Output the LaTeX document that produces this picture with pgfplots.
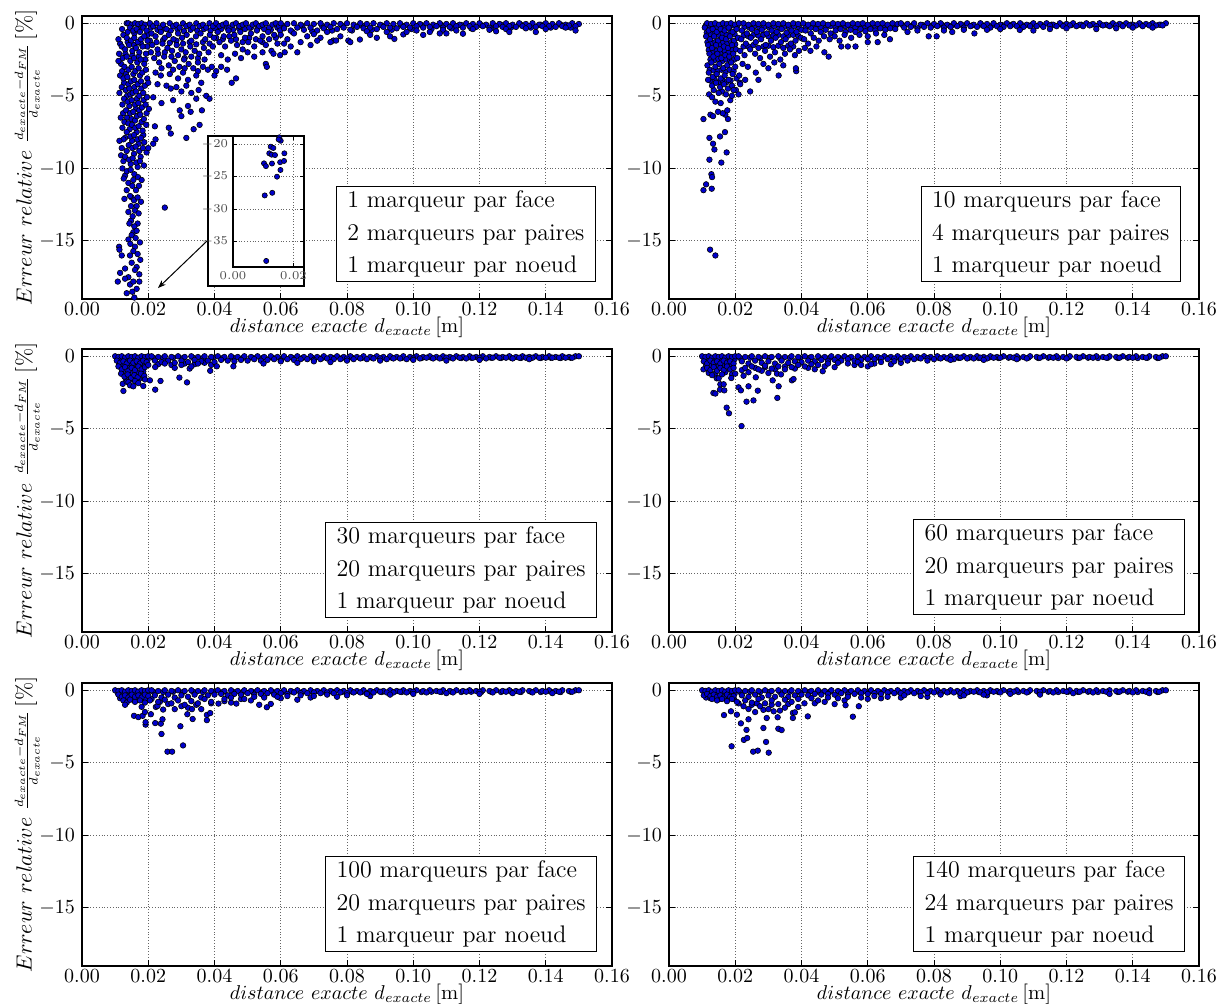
\documentclass[border=0pt]{standalone}
\usepackage{pgfplots}
\pgfplotsset{compat=1.18}
\usetikzlibrary{arrows.meta}
\pgfplotsset{
 panel/.style={scale only axis, width=265pt, height=141.5pt, anchor=north west,
  xmin=0, xmax=0.16, ymin=-19, ymax=0.5,
  xtick={0,0.02,0.04,0.06,0.08,0.1,0.12,0.14,0.16}, ytick={-15,-10,-5,0},
  scaled x ticks=false,
  xticklabel style={yshift=1.5pt, /pgf/number format/fixed, /pgf/number format/fixed zerofill, /pgf/number format/precision=2},
  grid=major, major grid style={black!60, densely dotted, line width=0.5pt},
  axis line style={line width=0.8pt}, tick align=inside, tick pos=both,
  major tick length=3pt, tick style={black, line width=0.5pt},
  ticklabel style={font=\fontsize{10}{12}\selectfont},
  xlabel={$distance\ exacte\ d_{exacte}\,$[m]},
  xlabel style={font=\fontsize{10.3}{12}\selectfont, yshift=6.5pt},
  only marks, mark=*, mark size=1.4pt, mark options={fill=blue, draw=black, line width=0.3pt}},
 ylab/.style={ylabel={$Erreur\ relative$ {\fontsize{9}{10}\selectfont$\frac{d_{exacte}-d_{FM}}{d_{exacte}}$}$\,[\%]$}, ylabel style={font=\fontsize{11}{13}\selectfont, yshift=-7pt}},
}
\tikzset{leg/.style={draw=black, line width=0.6pt, fill=white, align=left, anchor=south east,
  font=\fontsize{12}{16.3}\selectfont, inner xsep=5.5pt, inner ysep=2pt}}
\begin{document}
\begin{tikzpicture}
\path[use as bounding box] (0,0) rectangle (608.5pt,-501.5pt);
% ---------------- panel 1
\begin{axis}[panel, ylab, at={(41pt,-8pt)}]
\addplot coordinates {
(0.0121,-0.4)(0.0138,-0.6)(0.0158,-0.7)(0.0178,-0.2)(0.0198,-0.8)(0.0115,-1.4)(0.0138,-1.3)(0.0157,-1.5)(0.0178,-1.4)(0.0197,-1.6)(0.0118,-2.8)(0.0131,-2.1)(0.0152,-2.2)(0.0171,-2.3)(0.0191,-2.5)(0.0121,-3.3)(0.0133,-3.5)(0.0155,-3.5)(0.0175,-3.6)(0.0197,-3.8)
(0.0127,-4.1)(0.0140,-4.2)(0.0158,-4.4)(0.0179,-4.5)(0.0113,-4.8)(0.0136,-5.0)(0.0146,-4.9)(0.0166,-5.2)(0.0186,-5.3)(0.0122,-5.6)(0.0143,-5.7)(0.0163,-5.9)(0.0173,-6.0)(0.0195,-6.2)(0.0124,-6.2)(0.0136,-6.5)(0.0150,-6.6)(0.0160,-6.7)(0.0180,-6.8)
(0.0122,-7.2)(0.0144,-7.3)(0.0165,-7.5)(0.0185,-7.7)(0.0130,-7.9)(0.0151,-8.1)(0.0171,-8.3)(0.0120,-8.6)(0.0135,-8.8)(0.0157,-9.0)(0.0177,-9.2)(0.0125,-9.5)(0.0147,-9.7)(0.0168,-9.9)(0.0130,-10.5)(0.0155,-10.8)(0.0172,-11.2)(0.0135,-11.5)(0.0150,-12.0)(0.0165,-12.6)
(0.0140,-13.0)(0.0148,-13.6)(0.0168,-13.8)(0.0155,-14.4)(0.0140,-14.9)(0.0160,-15.4)(0.0145,-16.0)(0.0165,-16.8)(0.0130,-16.9)(0.0145,-18.0)(0.0165,-18.3)
(0.0208,-0.3)(0.0228,-0.45)(0.0248,-0.35)(0.0268,-0.5)(0.0288,-0.4)(0.0308,-0.55)(0.0328,-0.45)(0.0348,-0.5)(0.0368,-0.4)(0.0388,-0.5)(0.0205,-1.2)(0.0225,-1.3)(0.0245,-1.15)(0.0265,-1.35)(0.0285,-1.2)(0.0305,-1.4)(0.0325,-1.3)(0.0345,-1.45)(0.0365,-1.3)(0.0385,-1.4)
(0.0208,-2.0)(0.0230,-2.1)(0.0250,-2.0)(0.0270,-2.3)(0.0290,-2.2)(0.0310,-2.4)(0.0330,-2.3)(0.0350,-2.4)(0.0370,-2.5)(0.0240,-3.1)(0.0275,-3.2)(0.0310,-3.1)(0.0350,-3.3)
(0.0402,-0.35)(0.0420,-0.4)(0.0438,-0.3)(0.0456,-0.45)(0.0474,-0.35)(0.0492,-0.4)(0.0510,-0.3)(0.0530,-0.35)(0.0550,-0.4)(0.0570,-0.45)(0.0590,-0.3)(0.0405,-1.0)(0.0425,-1.1)(0.0445,-0.9)(0.0465,-1.1)(0.0485,-1.3)(0.0505,-1.0)(0.0525,-1.1)(0.0545,-1.3)(0.0565,-1.1)(0.0585,-1.0)
(0.0605,-0.2)(0.0635,-0.6)(0.0665,-0.2)(0.0695,-0.55)(0.0725,-0.2)(0.0755,-0.5)(0.0785,-0.15)(0.0815,-0.5)(0.0845,-0.15)(0.0875,-0.45)(0.0905,-0.15)(0.0935,-0.45)(0.0965,-0.15)(0.0995,-0.4)(0.1025,-0.12)(0.1055,-0.4)(0.1085,-0.12)(0.1115,-0.35)(0.1145,-0.12)(0.1175,-0.35)(0.1205,-0.12)(0.1235,-0.35)(0.1265,-0.1)(0.1295,-0.3)(0.1325,-0.1)(0.1355,-0.3)(0.1385,-0.1)(0.1415,-0.3)(0.1445,-0.1)(0.1475,-0.3)
(0.0135,0)(0.0140,0)(0.0150,-0.1)(0.0160,0)(0.0170,-0.05)(0.0180,0)(0.0190,-0.1)(0.0145,-0.3)(0.0155,-0.5)(0.0165,-0.4)(0.0175,-0.6)(0.0185,-0.3)(0.0195,-0.5)
(0.0110,-1.1)(0.0125,-0.8)(0.0135,-1.0)(0.0148,-1.2)(0.0158,-1.0)(0.0168,-1.3)(0.0178,-1.1)(0.0188,-0.9)(0.0198,-1.2)(0.0120,-1.6)(0.0130,-1.8)(0.0142,-1.5)(0.0152,-1.9)(0.0163,-1.7)(0.0173,-2.0)(0.0183,-1.6)(0.0193,-2.1)
(0.0112,-2.1)(0.0123,-2.4)(0.0135,-2.3)(0.0146,-2.6)(0.0157,-2.4)(0.0167,-2.7)(0.0177,-2.5)(0.0188,-2.8)(0.0110,-2.6)(0.0128,-3.0)(0.0140,-3.2)(0.0150,-3.0)(0.0161,-3.3)(0.0171,-3.1)(0.0182,-3.4)(0.0193,-3.2)
(0.0115,-3.6)(0.0125,-3.8)(0.0137,-3.7)(0.0148,-4.0)(0.0158,-3.9)(0.0168,-4.2)(0.0178,-4.0)(0.0190,-4.3)(0.0200,-4.1)(0.0120,-4.4)(0.0132,-4.6)(0.0143,-4.5)(0.0153,-4.8)(0.0163,-4.7)(0.0173,-5.0)(0.0185,-4.8)(0.0196,-5.1)
(0.0127,-5.2)(0.0138,-5.4)(0.0150,-5.3)(0.0160,-5.6)(0.0170,-5.5)(0.0181,-5.8)(0.0192,-5.6)(0.0202,-5.9)(0.0133,-6.0)(0.0145,-6.2)(0.0155,-6.1)(0.0166,-6.4)(0.0176,-6.3)(0.0187,-6.6)(0.0117,-6.5)(0.0128,-6.8)
(0.0140,-6.9)(0.0151,-7.0)(0.0161,-7.2)(0.0171,-7.1)(0.0183,-7.4)(0.0194,-7.0)(0.0135,-7.5)(0.0146,-7.8)(0.0157,-7.7)(0.0167,-8.0)(0.0178,-7.9)(0.0188,-8.2)(0.0125,-8.0)(0.0113,-8.1)(0.0141,-8.4)(0.0152,-8.6)(0.0162,-8.5)(0.0173,-8.8)(0.0184,-8.6)(0.0195,-8.9)
(0.0118,-9.1)(0.0130,-9.2)(0.0142,-9.4)(0.0153,-9.3)(0.0164,-9.6)(0.0175,-9.5)(0.0187,-9.8)(0.0122,-10.0)(0.0135,-10.2)(0.0147,-10.1)(0.0158,-10.4)(0.0169,-10.6)(0.0180,-10.8)(0.0126,-10.7)(0.0140,-11.0)(0.0152,-11.2)(0.0163,-11.5)
(0.0128,-12.1)(0.0145,-11.9)(0.0157,-12.2)(0.0168,-12.0)(0.0178,-12.3)(0.0148,-12.6)(0.0160,-12.9)(0.0171,-13.1)(0.0153,-13.3)(0.0143,-13.8)(0.0158,-14.0)(0.0165,-14.3)(0.0150,-14.6)(0.0162,-14.8)(0.0146,-15.2)(0.0175,-15.1)
(0.0112,-15.4)(0.0113,-15.6)(0.0155,-15.7)(0.0120,-16.0)(0.0168,-15.9)(0.0150,-16.5)(0.0176,-16.3)(0.0115,-17.2)(0.0160,-17.0)(0.0140,-17.5)(0.0173,-17.3)(0.0108,-17.8)(0.0130,-17.6)(0.0155,-17.8)(0.0173,-17.8)(0.0135,-18.6)(0.0152,-18.5)(0.0158,-18.9)
(0.0205,0)(0.0215,-0.2)(0.0225,0)(0.0235,-0.3)(0.0245,-0.1)(0.0255,-0.4)(0.0265,0)(0.0275,-0.2)(0.0285,-0.1)(0.0295,-0.3)(0.0305,0)(0.0315,-0.2)(0.0325,-0.1)(0.0335,-0.3)(0.0345,0)(0.0355,-0.2)(0.0365,-0.1)(0.0375,-0.3)(0.0385,0)(0.0395,-0.2)
(0.0210,-0.7)(0.0222,-0.9)(0.0238,-0.6)(0.0250,-1.0)(0.0262,-0.8)(0.0276,-1.1)(0.0290,-0.7)(0.0302,-1.0)(0.0316,-0.8)(0.0330,-1.2)(0.0344,-0.9)(0.0358,-0.7)(0.0372,-1.1)(0.0386,-0.8)(0.0398,-1.0)
(0.0212,-1.5)(0.0228,-1.8)(0.0243,-1.4)(0.0258,-1.7)(0.0272,-1.9)(0.0286,-1.5)(0.0300,-1.8)(0.0313,-2.0)(0.0327,-1.6)(0.0340,-1.9)(0.0354,-2.1)(0.0368,-1.7)(0.0382,-2.0)(0.0395,-1.6)
(0.0218,-2.4)(0.0233,-2.7)(0.0248,-2.3)(0.0262,-2.9)(0.0280,-2.6)(0.0294,-3.0)(0.0308,-2.5)(0.0322,-2.8)(0.0336,-3.1)(0.0350,-2.7)(0.0365,-3.0)(0.0380,-3.2)(0.0392,-3.0)(0.0405,-3.3)
(0.0222,-3.4)(0.0238,-3.6)(0.0265,-3.5)(0.0290,-3.8)(0.0305,-3.4)(0.0320,-3.9)(0.0345,-3.6)(0.0360,-4.1)(0.0228,-4.2)(0.0255,-4.3)(0.0268,-4.5)(0.0285,-4.4)(0.0300,-4.7)(0.0315,-4.3)(0.0330,-4.8)(0.0352,-4.6)(0.0375,-5.0)
(0.0215,-5.1)(0.0240,-5.5)(0.0275,-5.3)(0.0295,-6.0)(0.0320,-5.7)(0.0345,-5.2)(0.0385,-5.2)(0.0300,-6.4)(0.0328,-6.1)(0.0362,-6.0)(0.0220,-7.1)(0.0262,-7.2)(0.0355,-7.0)(0.0268,-7.6)(0.0337,-7.3)(0.0315,-7.9)(0.0215,-8.3)(0.0222,-8.0)(0.0200,-8.6)(0.0250,-12.7)
(0.0405,0)(0.0415,-0.2)(0.0425,-0.1)(0.0435,0)(0.0445,-0.3)(0.0455,-0.1)(0.0465,0)(0.0475,-0.2)(0.0485,-0.1)(0.0495,0)(0.0505,-0.3)(0.0515,-0.1)(0.0525,0)(0.0535,-0.2)(0.0545,-0.1)(0.0555,0)(0.0565,-0.3)(0.0575,-0.1)(0.0585,0)(0.0595,-0.2)
(0.0410,-0.6)(0.0428,-0.9)(0.0442,-0.5)(0.0460,-0.8)(0.0478,-0.6)(0.0492,-1.0)(0.0510,-0.7)(0.0528,-0.5)(0.0545,-0.9)(0.0562,-0.6)(0.0580,-0.8)(0.0598,-0.5)
(0.0415,-1.3)(0.0432,-1.6)(0.0450,-1.2)(0.0468,-1.5)(0.0485,-1.8)(0.0502,-1.3)(0.0520,-1.6)(0.0538,-1.2)(0.0555,-1.5)(0.0572,-1.9)(0.0590,-1.4)
(0.0420,-2.2)(0.0440,-2.5)(0.0462,-2.1)(0.0480,-2.4)(0.0500,-2.0)(0.0520,-2.3)(0.0545,-2.0)(0.0578,-2.1)(0.0598,-2.2)(0.0612,-2.0)(0.0420,-3.0)(0.0438,-3.2)(0.0452,-4.1)(0.0465,-3.8)(0.0555,-2.8)(0.0558,-3.0)(0.0400,-3.6)
(0.060,0)(0.062,-0.05)(0.064,0)(0.066,-0.1)(0.068,0)(0.070,-0.05)(0.072,0)(0.074,-0.1)(0.076,0)(0.078,-0.05)(0.080,0)(0.082,-0.1)(0.084,0)(0.086,-0.05)(0.088,0)(0.090,-0.1)(0.092,0)(0.094,-0.05)(0.096,0)(0.098,-0.1)(0.100,0)(0.102,-0.05)(0.104,0)(0.106,-0.1)(0.108,0)(0.110,-0.05)(0.112,0)(0.114,-0.1)(0.116,0)(0.118,-0.05)(0.120,0)(0.122,-0.1)(0.124,0)(0.126,-0.05)(0.128,0)(0.130,-0.1)(0.132,0)(0.134,-0.05)(0.136,0)(0.138,-0.1)(0.140,0)(0.142,-0.05)(0.144,0)(0.146,-0.1)(0.148,0)(0.150,-0.05)
(0.061,-0.35)(0.063,-0.5)(0.065,-0.3)(0.067,-0.45)(0.069,-0.3)(0.071,-0.5)(0.073,-0.35)(0.075,-0.25)(0.077,-0.4)(0.079,-0.3)(0.081,-0.45)(0.083,-0.25)(0.085,-0.35)(0.087,-0.3)(0.089,-0.4)(0.091,-0.25)(0.093,-0.3)(0.095,-0.35)(0.097,-0.25)(0.099,-0.3)(0.101,-0.2)(0.103,-0.3)(0.105,-0.25)(0.107,-0.2)(0.109,-0.3)(0.111,-0.25)(0.113,-0.2)(0.115,-0.3)(0.117,-0.2)(0.119,-0.25)(0.121,-0.2)(0.123,-0.3)(0.125,-0.2)(0.127,-0.25)(0.129,-0.2)(0.131,-0.25)(0.133,-0.2)(0.135,-0.2)(0.137,-0.25)(0.139,-0.2)(0.141,-0.2)(0.143,-0.25)(0.145,-0.2)(0.147,-0.15)(0.149,-0.2)
(0.060,-0.8)(0.062,-1.1)(0.064,-0.7)(0.066,-1.3)(0.068,-0.9)(0.070,-0.75)(0.072,-1.0)(0.074,-0.6)(0.0759,-1.19)(0.0767,-1.19)(0.078,-0.9)(0.0804,-1.19)(0.081,-1.3)(0.0839,-1.12)(0.086,-0.55)(0.089,-1.0)(0.092,-0.6)(0.0943,-1.08)(0.097,-0.77)(0.098,-0.6)(0.101,-0.5)(0.103,-0.8)(0.105,-0.6)(0.109,-0.45)(0.113,-0.5)(0.115,-0.72)(0.118,-0.4)(0.123,-0.45)(0.128,-0.4)(0.134,-0.35)(0.137,-0.6)(0.140,-0.4)(0.146,-0.3)(0.149,-0.5)
(0.063,-1.6)(0.065,-2.0)(0.061,-1.4)(0.069,-1.5)(0.071,-1.2)(0.075,-1.3)(0.087,-0.8)(0.093,-0.9)(0.108,-0.7)(0.110,-0.7)(0.125,-0.55)(0.129,-0.6)
};
\node[leg] at (rel axis cs:0.97,0.06) {1 marqueur par face\\2 marqueurs par paires\\1 marqueur par noeud};
\end{axis}
% inset
\fill[white] (104pt,-68pt) rectangle (152pt,-143pt);
\draw[black, line width=0.6pt] (104pt,-68pt) rectangle (152pt,-143pt);
\begin{axis}[scale only axis, width=35.5pt, height=65.5pt, anchor=north west, at={(116.5pt,-68pt)},
  xmin=0, xmax=0.0235, ymin=-38.9, ymax=-18.77, xtick={0,0.02}, ytick={-35,-30,-25,-20},
  scaled x ticks=false,
  grid=major, major grid style={black!60, densely dotted, line width=0.4pt},
  axis line style={line width=0.6pt}, tick align=inside, tick pos=both, major tick length=2pt,
  tick style={black, line width=0.4pt}, ticklabel style={font=\fontsize{6}{7}\selectfont, text=black!70},
  xticklabel style={yshift=1pt, /pgf/number format/fixed, /pgf/number format/fixed zerofill, /pgf/number format/precision=2},
  yticklabel style={xshift=1pt},
  only marks, mark=*, mark size=1.3pt, mark options={fill=blue, draw=black, line width=0.3pt}]
\addplot coordinates {(0.01533,-18.97)(0.0158,-19.5)(0.0151,-19.3)(0.01247,-20.41)(0.01335,-20.61)(0.0120,-21.43)(0.0128,-21.64)(0.0139,-21.7)(0.0170,-21.43)(0.01026,-22.97)(0.0109,-23.4)(0.0129,-23.0)(0.0156,-22.8)(0.0169,-22.6)(0.0157,-23.99)(0.01457,-25.02)(0.0130,-27.5)(0.0105,-27.9)(0.0110,-37.97)};
\end{axis}
\draw[-{Stealth[length=4pt,width=3pt]}, line width=0.5pt] (103.5pt,-120.5pt) -- (79pt,-144pt);
% ---------------- panel 2
\begin{axis}[panel, at={(334.5pt,-8pt)}]
\addplot coordinates {
(0.0110,-0.2)(0.0122,-0.15)(0.0134,-0.2)(0.0146,-0.25)(0.0158,-0.15)(0.0170,-0.2)(0.0182,-0.25)(0.0194,-0.15)(0.0206,-0.2)(0.0114,-0.65)(0.0126,-0.75)(0.0138,-0.7)(0.0150,-0.8)(0.0162,-0.7)(0.0174,-0.8)(0.0186,-0.65)(0.0198,-0.75)
(0.0116,-1.3)(0.0128,-1.35)(0.0140,-1.3)(0.0152,-1.45)(0.0164,-1.3)(0.0176,-1.4)(0.0188,-1.3)(0.0200,-1.45)(0.0120,-1.85)(0.0132,-1.95)(0.0144,-1.9)(0.0156,-2.0)(0.0168,-1.9)(0.0180,-2.0)(0.0192,-1.85)
(0.0125,-2.5)(0.0137,-2.55)(0.0149,-2.45)(0.0161,-2.6)(0.0173,-2.5)(0.0185,-2.55)(0.0197,-2.5)(0.0123,-3.2)(0.0135,-3.25)(0.0147,-3.3)(0.0159,-3.2)(0.0171,-3.35)(0.0183,-3.2)(0.0195,-3.3)
(0.0125,-3.95)(0.0137,-3.85)(0.0150,-4.05)(0.0162,-3.95)(0.0174,-4.05)(0.0186,-3.95)(0.0135,-4.6)(0.0160,-4.7)(0.0172,-4.9)
(0.0228,-0.25)(0.0243,-0.3)(0.0258,-0.2)(0.0273,-0.3)(0.0288,-0.25)(0.0303,-0.3)(0.0318,-0.2)(0.0333,-0.3)(0.0348,-0.25)(0.0363,-0.3)(0.0378,-0.2)(0.0393,-0.3)
(0.0225,-0.85)(0.0240,-0.9)(0.0255,-0.8)(0.0270,-0.85)(0.0285,-0.8)(0.0300,-0.9)(0.0315,-0.85)(0.0330,-0.8)(0.0345,-0.9)(0.0360,-0.85)(0.0375,-0.8)(0.0390,-0.85)
(0.0225,-1.6)(0.0240,-1.6)(0.0255,-1.5)(0.0270,-1.7)(0.0285,-1.6)(0.0300,-1.55)(0.0315,-1.65)(0.0330,-1.55)(0.0345,-1.7)(0.0360,-1.55)(0.0375,-1.6)
(0.0413,-0.25)(0.0428,-0.3)(0.0443,-0.2)(0.0458,-0.25)(0.0473,-0.3)(0.0488,-0.2)(0.0503,-0.25)(0.0518,-0.3)(0.0533,-0.2)(0.0548,-0.25)(0.0563,-0.3)(0.0578,-0.2)(0.0593,-0.25)(0.0608,-0.3)(0.0623,-0.2)(0.0638,-0.25)(0.0653,-0.2)(0.0668,-0.2)(0.0683,-0.25)
(0.0705,-0.12)(0.0735,-0.15)(0.0765,-0.12)(0.0795,-0.15)(0.0825,-0.12)(0.0855,-0.15)(0.0885,-0.12)(0.0915,-0.15)(0.0945,-0.12)(0.0975,-0.15)(0.1005,-0.12)(0.1035,-0.1)(0.1065,-0.12)(0.1095,-0.1)(0.1125,-0.12)(0.1155,-0.1)(0.1185,-0.1)(0.1215,-0.12)(0.1245,-0.1)(0.1275,-0.1)(0.1305,-0.1)(0.1335,-0.12)(0.1365,-0.1)(0.1395,-0.1)(0.1425,-0.1)(0.1455,-0.1)(0.1485,-0.1)
(0.0115,0)(0.0127,-0.05)(0.0139,0)(0.0151,-0.1)(0.0163,0)(0.0175,-0.05)(0.0187,0)(0.0199,-0.1)(0.0211,0)
(0.0108,-0.3)(0.0120,-0.5)(0.0132,-0.4)(0.0144,-0.6)(0.0156,-0.4)(0.0168,-0.5)(0.0180,-0.3)(0.0192,-0.6)(0.0204,-0.4)
(0.0112,-0.9)(0.0124,-1.1)(0.0136,-0.9)(0.0148,-1.2)(0.0160,-1.0)(0.0172,-1.1)(0.0184,-0.9)(0.0196,-1.2)(0.0208,-1.0)
(0.0118,-1.5)(0.0130,-1.7)(0.0142,-1.5)(0.0154,-1.8)(0.0166,-1.6)(0.0178,-1.7)(0.0190,-1.5)(0.0202,-1.8)
(0.0122,-2.1)(0.0134,-2.3)(0.0146,-2.1)(0.0158,-2.4)(0.0170,-2.2)(0.0182,-2.3)(0.0194,-2.1)(0.0206,-2.4)
(0.0116,-2.9)(0.0128,-2.7)(0.0140,-3.0)(0.0152,-2.8)(0.0164,-3.1)(0.0176,-2.9)(0.0188,-2.7)(0.0200,-3.0)
(0.0120,-3.4)(0.0132,-3.7)(0.0144,-3.5)(0.0156,-3.8)(0.0168,-3.6)(0.0180,-3.9)(0.0192,-3.5)(0.0204,-3.8)
(0.0118,-3.9)(0.0130,-4.3)(0.0142,-4.1)(0.0154,-4.4)(0.0166,-4.2)(0.0178,-4.5)(0.0190,-4.3)(0.0202,-4.6)(0.0214,-4.1)
(0.0104,-6.6)(0.0112,-11.1)(0.0104,-11.5)(0.0124,-15.6)(0.0140,-16.0)(0.0122,-9.4)(0.0128,-10.4)(0.0130,-10.6)(0.0129,-11.4)(0.0122,-7.9)(0.0133,-8.3)(0.0137,-8.7)(0.0158,-9.6)(0.0174,-8.9)(0.0154,-7.8)(0.0169,-7.5)(0.0178,-6.6)
(0.0121,-4.9)(0.0130,-5.1)(0.0125,-6.3)(0.0133,-6.4)(0.0156,-5.5)(0.0170,-6.3)(0.0162,-6.2)(0.0176,-6.0)(0.0185,-5.3)(0.0140,-5.4)(0.0148,-6.1)(0.0190,-5.0)(0.0210,-4.9)(0.0195,-4.6)(0.0245,-4.7)(0.0150,-4.8)
(0.0225,0)(0.0240,-0.1)(0.0255,0)(0.0270,-0.05)(0.0285,0)(0.0300,-0.1)(0.0315,0)(0.0330,-0.05)(0.0345,0)(0.0360,-0.1)(0.0375,0)(0.0390,-0.05)
(0.0220,-0.5)(0.0235,-0.7)(0.0250,-0.4)(0.0265,-0.6)(0.0280,-0.45)(0.0295,-0.7)(0.0310,-0.5)(0.0325,-0.6)(0.0340,-0.4)(0.0355,-0.65)(0.0370,-0.5)(0.0385,-0.6)(0.0400,-0.45)
(0.0218,-1.1)(0.0232,-1.4)(0.0247,-1.0)(0.0262,-1.3)(0.0278,-1.1)(0.0292,-1.5)(0.0308,-1.2)(0.0322,-1.0)(0.0338,-1.3)(0.0352,-1.1)(0.0368,-1.4)(0.0382,-1.2)(0.0398,-1.0)
(0.0215,-1.9)(0.0228,-2.2)(0.0245,-1.8)(0.0260,-2.1)(0.0275,-2.4)(0.0290,-1.9)(0.0305,-2.3)(0.0320,-2.0)(0.0336,-2.5)(0.0350,-2.1)(0.0365,-1.8)(0.0380,-2.2)(0.0392,-1.9)
(0.0222,-2.8)(0.0238,-3.0)(0.0262,-3.4)(0.0270,-3.9)(0.0285,-2.8)(0.0300,-3.1)(0.0318,-2.7)(0.0331,-3.6)(0.0345,-2.9)(0.0384,-3.3)(0.0383,-3.1)(0.0212,-3.6)(0.0230,-3.9)(0.0215,-4.2)
(0.0405,0)(0.0420,-0.1)(0.0435,0)(0.0450,-0.05)(0.0465,0)(0.0480,-0.1)(0.0495,0)(0.0510,-0.05)(0.0525,0)(0.0540,-0.1)(0.0555,0)(0.0570,-0.05)(0.0585,0)(0.0600,-0.1)(0.0615,0)(0.0630,-0.05)(0.0645,0)(0.0660,-0.1)(0.0675,0)(0.0690,-0.05)
(0.0412,-0.5)(0.0428,-0.7)(0.0443,-0.4)(0.0458,-0.6)(0.0473,-0.45)(0.0488,-0.7)(0.0503,-0.5)(0.0518,-0.4)(0.0533,-0.6)(0.0548,-0.45)(0.0563,-0.6)(0.0578,-0.4)(0.0593,-0.55)(0.0608,-0.4)(0.0623,-0.5)(0.0638,-0.35)(0.0653,-0.45)(0.0668,-0.35)(0.0683,-0.4)
(0.0408,-1.1)(0.0420,-1.4)(0.0437,-1.0)(0.0452,-1.2)(0.0468,-0.9)(0.0485,-1.1)(0.0500,-0.9)(0.0515,-1.2)(0.0530,-0.8)(0.0550,-1.0)(0.0575,-0.8)(0.0600,-0.9)(0.0625,-0.7)(0.0650,-0.8)
(0.0427,-1.9)(0.0469,-2.0)(0.0482,-2.3)(0.0520,-1.6)(0.0540,-1.6)(0.0563,-1.6)(0.0600,-1.3)(0.0630,-1.3)(0.0667,-1.1)(0.0445,-1.6)(0.0410,-1.7)
(0.070,0)(0.072,-0.05)(0.074,0)(0.076,-0.1)(0.078,0)(0.080,-0.05)(0.082,0)(0.084,-0.1)(0.086,0)(0.088,-0.05)(0.090,0)(0.092,-0.1)(0.094,0)(0.096,-0.05)(0.098,0)(0.100,-0.1)(0.102,0)(0.104,-0.05)(0.106,0)(0.108,-0.1)(0.110,0)(0.112,-0.05)(0.114,0)(0.116,-0.1)(0.118,0)(0.120,-0.05)(0.122,0)(0.124,-0.1)(0.126,0)(0.128,-0.05)(0.130,0)(0.132,-0.1)(0.134,0)(0.136,-0.05)(0.138,0)(0.140,-0.1)(0.142,0)(0.144,-0.05)(0.146,0)(0.148,-0.1)(0.150,0)
(0.071,-0.3)(0.073,-0.25)(0.075,-0.35)(0.077,-0.25)(0.079,-0.3)(0.081,-0.2)(0.083,-0.3)(0.085,-0.25)(0.087,-0.2)(0.089,-0.3)(0.091,-0.2)(0.093,-0.25)(0.095,-0.2)(0.097,-0.3)(0.099,-0.2)(0.101,-0.25)(0.103,-0.2)(0.105,-0.2)(0.107,-0.25)(0.109,-0.2)(0.111,-0.2)(0.113,-0.25)(0.115,-0.15)(0.117,-0.2)(0.119,-0.2)(0.121,-0.15)(0.123,-0.2)(0.125,-0.2)(0.127,-0.15)(0.129,-0.2)(0.131,-0.15)(0.133,-0.2)(0.135,-0.15)(0.137,-0.2)(0.139,-0.15)(0.141,-0.15)(0.143,-0.2)(0.145,-0.15)(0.147,-0.15)(0.149,-0.15)
(0.072,-0.6)(0.0784,-0.9)(0.0808,-0.9)(0.0855,-0.6)(0.0922,-0.7)(0.1059,-0.46)(0.110,-0.5)(0.129,-0.4)(0.146,-0.3)(0.075,-0.5)(0.083,-0.5)(0.089,-0.45)(0.096,-0.45)(0.100,-0.4)(0.115,-0.4)(0.120,-0.35)(0.135,-0.35)(0.140,-0.3)
};
\node[leg] at (rel axis cs:0.966,0.06) {10 marqueurs par face\\4 marqueurs par paires\\1 marqueur par noeud};
\end{axis}
% ---------------- panel 3
\begin{axis}[panel, ylab, at={(41pt,-174.5pt)}]
\addplot coordinates {
(0.0108,-0.2)(0.0118,-0.25)(0.0128,-0.2)(0.0138,-0.25)(0.0148,-0.2)(0.0158,-0.25)(0.0168,-0.2)(0.0178,-0.25)(0.0188,-0.2)(0.0198,-0.25)(0.0112,-0.55)(0.0125,-0.6)(0.0138,-0.65)(0.0150,-0.6)(0.0163,-0.55)(0.0175,-0.65)(0.0188,-0.6)(0.0123,-1.05)(0.0145,-1.15)(0.0165,-1.1)(0.0185,-1.05)(0.0133,-1.6)(0.0153,-1.6)(0.0173,-1.55)(0.023,-0.55)(0.027,-0.6)(0.031,-0.5)(0.034,-0.55)(0.037,-0.45)(0.039,-0.6)
(0.0215,-0.1)(0.0245,-0.12)(0.0275,-0.1)(0.0305,-0.12)(0.0335,-0.1)(0.0365,-0.12)(0.0395,-0.1)(0.0425,-0.12)(0.0455,-0.1)(0.0485,-0.12)(0.0515,-0.1)(0.0545,-0.12)(0.0575,-0.1)(0.0605,-0.12)(0.0635,-0.1)(0.0665,-0.12)(0.0695,-0.1)(0.0725,-0.12)(0.0755,-0.1)(0.0785,-0.12)(0.0815,-0.1)(0.0845,-0.12)(0.0875,-0.1)(0.0905,-0.12)(0.0935,-0.1)(0.0965,-0.12)(0.0995,-0.1)(0.1025,-0.12)(0.1055,-0.1)(0.1085,-0.12)(0.1115,-0.1)(0.1145,-0.12)(0.1175,-0.1)(0.1205,-0.12)(0.1235,-0.1)(0.1265,-0.12)(0.1295,-0.1)(0.1325,-0.12)(0.1355,-0.1)(0.1385,-0.12)(0.1415,-0.1)(0.1445,-0.12)(0.1475,-0.1)
(0.0100,0)(0.0110,-0.05)(0.0120,0)(0.0130,-0.1)(0.0140,0)(0.0150,-0.05)(0.0160,0)(0.0170,-0.1)(0.0180,0)(0.0190,-0.05)(0.0200,0)
(0.0105,-0.3)(0.0115,-0.45)(0.0125,-0.35)(0.0135,-0.5)(0.0145,-0.3)(0.0155,-0.45)(0.0165,-0.35)(0.0175,-0.5)(0.0185,-0.3)(0.0195,-0.4)
(0.0110,-0.7)(0.0120,-0.9)(0.0130,-0.75)(0.0140,-1.0)(0.0150,-0.8)(0.0160,-0.95)(0.0170,-0.7)(0.0180,-0.9)(0.0190,-0.75)(0.0200,-0.6)
(0.0118,-1.2)(0.0128,-1.4)(0.0138,-1.25)(0.0148,-1.5)(0.0158,-1.3)(0.0168,-1.45)(0.0178,-1.2)(0.0188,-1.35)
(0.0123,-1.9)(0.0125,-2.39)(0.0135,-1.75)(0.0140,-1.78)(0.0145,-2.0)(0.0155,-2.07)(0.0160,-1.7)(0.0170,-1.85)(0.0185,-2.05)(0.0190,-1.6)(0.0205,-1.66)(0.0221,-2.3)(0.0237,-1.7)(0.0294,-1.47)(0.0317,-1.8)(0.0387,-1.0)(0.0325,-0.85)
(0.021,0)(0.023,-0.05)(0.025,0)(0.027,-0.05)(0.029,0)(0.031,-0.05)(0.033,0)(0.035,-0.05)(0.037,0)(0.039,-0.05)(0.041,0)(0.043,-0.05)(0.045,0)(0.047,-0.05)(0.049,0)(0.051,-0.05)(0.053,0)(0.055,-0.05)(0.057,0)(0.059,-0.05)(0.061,0)(0.063,-0.05)(0.065,0)(0.067,-0.05)(0.069,0)(0.071,-0.05)(0.073,0)(0.075,-0.05)(0.077,0)(0.079,-0.05)(0.081,0)(0.083,-0.05)(0.085,0)(0.087,-0.05)(0.089,0)(0.091,-0.05)(0.093,0)(0.095,-0.05)(0.097,0)(0.099,-0.05)(0.101,0)(0.103,-0.05)(0.105,0)(0.107,-0.05)(0.109,0)(0.111,-0.05)(0.113,0)(0.115,-0.05)(0.117,0)(0.119,-0.05)(0.121,0)(0.123,-0.05)(0.125,0)(0.127,-0.05)(0.129,0)(0.131,-0.05)(0.133,0)(0.135,-0.05)(0.137,0)(0.139,-0.05)(0.141,0)(0.143,-0.05)(0.145,0)(0.147,-0.05)(0.149,0)(0.150,0)
(0.022,-0.3)(0.024,-0.4)(0.026,-0.3)(0.028,-0.45)(0.030,-0.3)(0.032,-0.4)(0.034,-0.25)(0.036,-0.35)(0.038,-0.3)(0.040,-0.4)(0.042,-0.25)(0.044,-0.3)(0.046,-0.35)(0.048,-0.25)(0.050,-0.3)(0.052,-0.2)(0.054,-0.3)(0.056,-0.25)(0.058,-0.2)(0.060,-0.3)(0.062,-0.2)(0.064,-0.25)(0.066,-0.2)(0.068,-0.2)(0.070,-0.25)(0.072,-0.2)(0.074,-0.15)(0.076,-0.2)(0.078,-0.2)(0.080,-0.15)(0.082,-0.2)(0.084,-0.15)(0.086,-0.2)(0.088,-0.15)(0.090,-0.15)(0.092,-0.2)(0.094,-0.15)(0.096,-0.15)(0.098,-0.2)(0.100,-0.15)(0.102,-0.15)(0.104,-0.1)(0.106,-0.15)(0.108,-0.15)(0.110,-0.1)(0.112,-0.15)(0.114,-0.1)(0.116,-0.15)(0.118,-0.1)(0.120,-0.1)(0.122,-0.15)(0.124,-0.1)(0.126,-0.1)(0.128,-0.1)(0.130,-0.15)(0.132,-0.1)(0.134,-0.1)(0.136,-0.1)(0.138,-0.1)(0.140,-0.1)(0.142,-0.1)(0.144,-0.1)(0.146,-0.1)(0.148,-0.1)
(0.0221,-0.74)(0.025,-0.5)(0.028,-0.8)(0.030,-0.6)(0.033,-0.7)(0.035,-0.5)(0.0407,-0.69)(0.0457,-0.69)(0.0548,-0.5)(0.060,-0.35)(0.065,-0.45)(0.070,-0.35)(0.075,-0.4)(0.080,-0.3)(0.090,-0.3)(0.100,-0.25)(0.110,-0.3)(0.120,-0.25)(0.135,-0.2)
};
\node[leg] at (rel axis cs:0.972,0.05) {30 marqueurs par face\\20 marqueurs par paires\\1 marqueur par noeud};
\end{axis}
% ---------------- panel 4
\begin{axis}[panel, at={(334.5pt,-174.5pt)}]
\addplot coordinates {
(0.0108,-0.2)(0.0118,-0.2)(0.0128,-0.25)(0.0138,-0.2)(0.0148,-0.25)(0.0158,-0.2)(0.0168,-0.25)(0.0178,-0.2)(0.0188,-0.25)(0.0198,-0.2)(0.0112,-0.6)(0.0125,-0.65)(0.0138,-0.6)(0.0150,-0.65)(0.0163,-0.6)(0.0175,-0.55)(0.0188,-0.65)
(0.0120,-1.15)(0.0140,-1.2)(0.0170,-1.1)(0.0190,-1.25)(0.0220,-0.95)(0.0260,-0.8)(0.0290,-0.75)(0.0320,-0.9)(0.0350,-0.7)(0.0380,-0.85)(0.0420,-0.8)(0.0440,-0.9)(0.0470,-0.7)(0.0500,-0.75)(0.0560,-0.6)(0.0600,-0.7)(0.0620,-0.5)(0.0670,-0.55)(0.0700,-0.45)
(0.0215,-0.12)(0.0245,-0.1)(0.0275,-0.12)(0.0305,-0.1)(0.0335,-0.12)(0.0365,-0.1)(0.0395,-0.12)(0.0425,-0.1)(0.0455,-0.12)(0.0485,-0.1)(0.0515,-0.12)(0.0545,-0.1)(0.0575,-0.12)(0.0605,-0.1)(0.0635,-0.12)(0.0665,-0.1)(0.0695,-0.12)(0.0725,-0.1)(0.0755,-0.12)(0.0785,-0.1)(0.0815,-0.12)(0.0845,-0.1)(0.0875,-0.12)(0.0905,-0.1)(0.0935,-0.12)(0.0965,-0.1)(0.0995,-0.12)(0.1025,-0.1)(0.1055,-0.12)(0.1085,-0.1)(0.1115,-0.12)(0.1145,-0.1)(0.1175,-0.12)(0.1205,-0.1)(0.1235,-0.12)(0.1265,-0.1)(0.1295,-0.12)(0.1325,-0.1)(0.1355,-0.12)(0.1385,-0.1)(0.1415,-0.12)(0.1445,-0.1)(0.1475,-0.12)
(0.0100,0)(0.0110,-0.05)(0.0120,0)(0.0130,-0.1)(0.0140,0)(0.0150,-0.05)(0.0160,0)(0.0170,-0.1)(0.0180,0)(0.0190,-0.05)(0.0200,0)
(0.0105,-0.35)(0.0115,-0.5)(0.0125,-0.3)(0.0135,-0.45)(0.0145,-0.35)(0.0155,-0.5)(0.0165,-0.3)(0.0175,-0.45)(0.0185,-0.35)(0.0195,-0.5)
(0.0104,-0.9)(0.0115,-0.8)(0.0125,-0.95)(0.0135,-0.75)(0.0145,-1.0)(0.0155,-0.8)(0.0165,-0.95)(0.0175,-0.7)(0.0185,-0.9)(0.0195,-0.8)
(0.0144,-1.52)(0.0150,-1.52)(0.0188,-1.5)(0.0225,-1.34)(0.0262,-1.45)(0.0326,-1.2)(0.0338,-1.25)(0.0464,-1.03)(0.0130,-1.3)(0.0160,-1.25)(0.0200,-1.2)(0.0240,-1.1)(0.0280,-1.0)(0.0300,-1.15)
(0.0219,-4.81)(0.0174,-3.54)(0.0181,-3.93)(0.0134,-2.53)(0.0140,-2.57)(0.0234,-3.13)(0.0255,-3.04)(0.0327,-2.87)(0.0268,-2.37)(0.0210,-2.14)(0.0217,-2.35)(0.0154,-2.3)(0.0167,-2.35)(0.0155,-1.93)(0.0165,-1.93)(0.0240,-2.07)(0.0331,-2.07)(0.0313,-1.66)(0.0371,-1.66)(0.0376,-1.57)
(0.021,0)(0.023,-0.05)(0.025,0)(0.027,-0.05)(0.029,0)(0.031,-0.05)(0.033,0)(0.035,-0.05)(0.037,0)(0.039,-0.05)(0.041,0)(0.043,-0.05)(0.045,0)(0.047,-0.05)(0.049,0)(0.051,-0.05)(0.053,0)(0.055,-0.05)(0.057,0)(0.059,-0.05)(0.061,0)(0.063,-0.05)(0.065,0)(0.067,-0.05)(0.069,0)(0.071,-0.05)(0.073,0)(0.075,-0.05)(0.077,0)(0.079,-0.05)(0.081,0)(0.083,-0.05)(0.085,0)(0.087,-0.05)(0.089,0)(0.091,-0.05)(0.093,0)(0.095,-0.05)(0.097,0)(0.099,-0.05)(0.101,0)(0.103,-0.05)(0.105,0)(0.107,-0.05)(0.109,0)(0.111,-0.05)(0.113,0)(0.115,-0.05)(0.117,0)(0.119,-0.05)(0.121,0)(0.123,-0.05)(0.125,0)(0.127,-0.05)(0.129,0)(0.131,-0.05)(0.133,0)(0.135,-0.05)(0.137,0)(0.139,-0.05)(0.141,0)(0.143,-0.05)(0.145,0)(0.147,-0.05)(0.149,0)(0.150,0)
(0.022,-0.35)(0.024,-0.5)(0.026,-0.3)(0.028,-0.45)(0.030,-0.35)(0.032,-0.5)(0.034,-0.3)(0.036,-0.45)(0.038,-0.35)(0.040,-0.4)(0.042,-0.3)(0.044,-0.35)(0.046,-0.25)(0.048,-0.35)(0.050,-0.25)(0.052,-0.3)(0.054,-0.2)(0.056,-0.3)(0.058,-0.25)(0.060,-0.2)(0.062,-0.2)(0.064,-0.15)(0.066,-0.2)(0.068,-0.15)(0.070,-0.2)(0.072,-0.15)(0.074,-0.2)(0.076,-0.15)(0.078,-0.15)(0.080,-0.2)(0.082,-0.15)(0.084,-0.15)(0.086,-0.2)(0.088,-0.1)(0.090,-0.15)(0.092,-0.15)(0.094,-0.1)(0.096,-0.15)(0.098,-0.1)(0.100,-0.1)(0.104,-0.1)(0.108,-0.15)(0.112,-0.1)(0.116,-0.1)(0.120,-0.15)(0.124,-0.1)(0.128,-0.1)(0.132,-0.1)(0.136,-0.1)(0.140,-0.1)(0.144,-0.1)(0.148,-0.1)
(0.023,-0.8)(0.025,-0.7)(0.027,-0.9)(0.029,-0.65)(0.031,-0.85)(0.033,-0.7)(0.035,-0.9)(0.037,-0.75)(0.039,-0.6)(0.041,-0.7)(0.043,-0.55)(0.045,-0.6)(0.048,-0.5)(0.051,-0.45)(0.054,-0.5)(0.057,-0.4)(0.058,-0.6)(0.061,-0.55)(0.064,-0.4)(0.068,-0.35)(0.072,-0.3)(0.078,-0.3)(0.085,-0.25)(0.095,-0.25)(0.105,-0.2)
};
\node[leg] at (rel axis cs:0.974,0.06) {60 marqueurs par face\\20 marqueurs par paires\\1 marqueur par noeud};
\end{axis}
% ---------------- panel 5
\begin{axis}[panel, ylab, at={(41pt,-341.5pt)}]
\addplot coordinates {
(0.0108,-0.2)(0.0118,-0.25)(0.0128,-0.2)(0.0138,-0.25)(0.0148,-0.2)(0.0158,-0.25)(0.0168,-0.2)(0.0178,-0.25)(0.0188,-0.2)(0.0198,-0.25)(0.0115,-0.55)(0.0128,-0.6)(0.0140,-0.55)(0.0153,-0.65)(0.0166,-0.55)(0.0178,-0.6)(0.0192,-0.55)
(0.0210,-0.6)(0.0235,-0.8)(0.0260,-0.95)(0.0280,-1.3)(0.0300,-1.1)(0.0320,-1.2)(0.0345,-1.0)(0.0360,-1.3)(0.0390,-0.9)(0.0430,-0.75)(0.0450,-0.85)(0.0480,-0.6)(0.0510,-0.7)(0.0600,-0.55)(0.0690,-0.5)(0.0770,-0.45)(0.0870,-0.4)
(0.0215,-0.1)(0.0245,-0.12)(0.0275,-0.1)(0.0305,-0.12)(0.0335,-0.1)(0.0365,-0.12)(0.0395,-0.1)(0.0425,-0.12)(0.0455,-0.1)(0.0485,-0.12)(0.0515,-0.1)(0.0545,-0.12)(0.0575,-0.1)(0.0605,-0.12)(0.0635,-0.1)(0.0665,-0.12)(0.0695,-0.1)(0.0725,-0.12)(0.0755,-0.1)(0.0785,-0.12)(0.0815,-0.1)(0.0845,-0.12)(0.0875,-0.1)(0.0905,-0.12)(0.0935,-0.1)(0.0965,-0.12)(0.0995,-0.1)(0.1025,-0.12)(0.1055,-0.1)(0.1085,-0.12)(0.1115,-0.1)(0.1145,-0.12)(0.1175,-0.1)(0.1205,-0.12)(0.1235,-0.1)(0.1265,-0.12)(0.1295,-0.1)(0.1325,-0.12)(0.1355,-0.1)(0.1385,-0.12)(0.1415,-0.1)(0.1445,-0.12)(0.1475,-0.1)
(0.0100,0)(0.0110,-0.05)(0.0120,0)(0.0130,-0.1)(0.0140,0)(0.0150,-0.05)(0.0160,0)(0.0170,-0.1)(0.0180,0)(0.0190,-0.05)(0.0200,0)
(0.0110,-0.3)(0.0120,-0.45)(0.0130,-0.35)(0.0140,-0.5)(0.0150,-0.3)(0.0160,-0.45)(0.0170,-0.35)(0.0180,-0.5)(0.0190,-0.3)(0.0200,-0.4)
(0.0125,-0.7)(0.0135,-0.85)(0.0145,-0.65)(0.0160,-0.8)(0.0175,-0.7)(0.0190,-0.85)(0.0205,-0.7)(0.0130,-1.0)(0.0180,-1.14)
(0.0258,-4.23)(0.0272,-4.23)(0.0305,-3.8)(0.0240,-3.01)(0.0297,-2.48)(0.0192,-2.37)(0.0192,-2.2)(0.0221,-2.26)(0.0238,-2.3)(0.0243,-2.0)(0.0334,-1.98)(0.0377,-2.06)(0.0377,-1.7)(0.0387,-1.57)
(0.0157,-1.76)(0.0170,-1.85)(0.0183,-1.76)(0.0190,-1.5)(0.0208,-1.65)(0.0223,-1.15)(0.0228,-1.08)(0.0245,-1.33)(0.0318,-1.65)(0.0332,-1.3)(0.0558,-1.17)(0.0570,-0.94)(0.0535,-1.0)(0.0650,-0.65)(0.0412,-0.92)(0.0466,-0.92)
(0.021,0)(0.023,-0.05)(0.025,0)(0.027,-0.05)(0.029,0)(0.031,-0.05)(0.033,0)(0.035,-0.05)(0.037,0)(0.039,-0.05)(0.041,0)(0.043,-0.05)(0.045,0)(0.047,-0.05)(0.049,0)(0.051,-0.05)(0.053,0)(0.055,-0.05)(0.057,0)(0.059,-0.05)(0.061,0)(0.063,-0.05)(0.065,0)(0.067,-0.05)(0.069,0)(0.071,-0.05)(0.073,0)(0.075,-0.05)(0.077,0)(0.079,-0.05)(0.081,0)(0.083,-0.05)(0.085,0)(0.087,-0.05)(0.089,0)(0.091,-0.05)(0.093,0)(0.095,-0.05)(0.097,0)(0.099,-0.05)(0.101,0)(0.103,-0.05)(0.105,0)(0.107,-0.05)(0.109,0)(0.111,-0.05)(0.113,0)(0.115,-0.05)(0.117,0)(0.119,-0.05)(0.121,0)(0.123,-0.05)(0.125,0)(0.127,-0.05)(0.129,0)(0.131,-0.05)(0.133,0)(0.135,-0.05)(0.137,0)(0.139,-0.05)(0.141,0)(0.143,-0.05)(0.145,0)(0.147,-0.05)(0.149,0)(0.150,0)
(0.022,-0.35)(0.024,-0.5)(0.026,-0.3)(0.028,-0.5)(0.030,-0.35)(0.032,-0.45)(0.034,-0.3)(0.036,-0.5)(0.038,-0.35)(0.040,-0.3)(0.042,-0.25)(0.044,-0.35)(0.046,-0.25)(0.048,-0.3)(0.050,-0.2)(0.052,-0.3)(0.054,-0.25)(0.056,-0.2)(0.058,-0.3)(0.060,-0.2)(0.062,-0.25)(0.064,-0.15)(0.066,-0.2)(0.068,-0.2)(0.070,-0.15)(0.072,-0.2)(0.074,-0.15)(0.076,-0.2)(0.078,-0.15)(0.080,-0.2)(0.082,-0.15)(0.084,-0.15)(0.086,-0.2)(0.088,-0.15)(0.090,-0.1)(0.092,-0.15)(0.094,-0.15)(0.096,-0.1)(0.098,-0.15)(0.100,-0.1)(0.104,-0.15)(0.108,-0.1)(0.112,-0.15)(0.116,-0.1)(0.120,-0.1)(0.124,-0.15)(0.128,-0.1)(0.132,-0.1)(0.136,-0.15)(0.140,-0.1)(0.144,-0.1)(0.148,-0.1)
(0.023,-0.8)(0.025,-0.65)(0.027,-0.9)(0.029,-0.7)(0.031,-1.0)(0.033,-0.75)(0.035,-0.9)(0.037,-0.6)(0.039,-0.8)(0.043,-0.6)(0.045,-0.5)(0.049,-0.6)(0.052,-0.45)(0.055,-0.5)(0.059,-0.45)(0.062,-0.4)(0.066,-0.35)(0.070,-0.4)(0.074,-0.3)(0.080,-0.35)(0.086,-0.25)(0.093,-0.3)(0.100,-0.25)(0.110,-0.2)(0.120,-0.25)(0.130,-0.2)(0.142,-0.2)
};
\node[leg] at (rel axis cs:0.972,0.05) {100 marqueurs par face\\20 marqueurs par paires\\1 marqueur par noeud};
\end{axis}
% ---------------- panel 6
\begin{axis}[panel, at={(334.5pt,-341.5pt)}]
\addplot coordinates {
(0.0108,-0.2)(0.0118,-0.15)(0.0128,-0.2)(0.0138,-0.15)(0.0148,-0.2)(0.0158,-0.25)(0.0168,-0.2)(0.0178,-0.15)(0.0188,-0.2)(0.0198,-0.25)(0.0112,-0.5)(0.0125,-0.55)(0.0138,-0.5)(0.0152,-0.6)(0.0168,-0.55)(0.0182,-0.5)(0.0196,-0.6)
(0.0210,-0.9)(0.0225,-1.1)(0.0265,-0.9)(0.0285,-1.35)(0.0310,-1.0)(0.0335,-1.4)(0.0360,-0.95)(0.0390,-1.15)(0.0440,-0.9)(0.0470,-0.8)(0.0500,-0.95)(0.0530,-0.7)(0.0600,-0.6)(0.0640,-0.55)(0.0700,-0.5)(0.0780,-0.45)(0.0880,-0.4)(0.0960,-0.35)
(0.0215,-0.12)(0.0245,-0.1)(0.0275,-0.12)(0.0305,-0.1)(0.0335,-0.12)(0.0365,-0.1)(0.0395,-0.12)(0.0425,-0.1)(0.0455,-0.12)(0.0485,-0.1)(0.0515,-0.12)(0.0545,-0.1)(0.0575,-0.12)(0.0605,-0.1)(0.0635,-0.12)(0.0665,-0.1)(0.0695,-0.12)(0.0725,-0.1)(0.0755,-0.12)(0.0785,-0.1)(0.0815,-0.12)(0.0845,-0.1)(0.0875,-0.12)(0.0905,-0.1)(0.0935,-0.12)(0.0965,-0.1)(0.0995,-0.12)(0.1025,-0.1)(0.1055,-0.12)(0.1085,-0.1)(0.1115,-0.12)(0.1145,-0.1)(0.1175,-0.12)(0.1205,-0.1)(0.1235,-0.12)(0.1265,-0.1)(0.1295,-0.12)(0.1325,-0.1)(0.1355,-0.12)(0.1385,-0.1)(0.1415,-0.12)(0.1445,-0.1)(0.1475,-0.12)
(0.0100,0)(0.0110,-0.05)(0.0120,0)(0.0130,-0.1)(0.0140,0)(0.0150,-0.05)(0.0160,0)(0.0170,-0.1)(0.0180,0)(0.0190,-0.05)(0.0200,0)
(0.0105,-0.35)(0.0115,-0.25)(0.0125,-0.4)(0.0135,-0.3)(0.0145,-0.45)(0.0155,-0.35)(0.0165,-0.5)(0.0175,-0.3)(0.0185,-0.45)(0.0195,-0.4)
(0.0130,-0.6)(0.0145,-0.7)(0.0160,-0.6)(0.0175,-0.75)(0.0190,-0.6)(0.0205,-0.8)
(0.0189,-3.86)(0.0254,-4.23)(0.0268,-4.16)(0.0301,-4.3)(0.0293,-3.56)(0.0226,-3.42)(0.0236,-3.29)(0.0234,-2.73)(0.0217,-2.28)(0.0285,-2.6)(0.0330,-2.65)(0.0340,-2.74)(0.0240,-2.0)(0.0295,-1.91)(0.0328,-1.86)(0.0374,-1.91)(0.0419,-1.8)(0.0555,-1.82)
(0.0166,-1.71)(0.0187,-1.45)(0.0205,-1.68)(0.0240,-1.29)(0.0275,-1.1)(0.0316,-1.45)(0.0374,-1.56)(0.0380,-1.52)(0.0533,-1.03)(0.0573,-1.1)(0.0409,-0.9)(0.0260,-1.5)(0.0300,-1.3)(0.0350,-1.2)(0.0250,-1.0)
(0.021,0)(0.023,-0.05)(0.025,0)(0.027,-0.05)(0.029,0)(0.031,-0.05)(0.033,0)(0.035,-0.05)(0.037,0)(0.039,-0.05)(0.041,0)(0.043,-0.05)(0.045,0)(0.047,-0.05)(0.049,0)(0.051,-0.05)(0.053,0)(0.055,-0.05)(0.057,0)(0.059,-0.05)(0.061,0)(0.063,-0.05)(0.065,0)(0.067,-0.05)(0.069,0)(0.071,-0.05)(0.073,0)(0.075,-0.05)(0.077,0)(0.079,-0.05)(0.081,0)(0.083,-0.05)(0.085,0)(0.087,-0.05)(0.089,0)(0.091,-0.05)(0.093,0)(0.095,-0.05)(0.097,0)(0.099,-0.05)(0.101,0)(0.103,-0.05)(0.105,0)(0.107,-0.05)(0.109,0)(0.111,-0.05)(0.113,0)(0.115,-0.05)(0.117,0)(0.119,-0.05)(0.121,0)(0.123,-0.05)(0.125,0)(0.127,-0.05)(0.129,0)(0.131,-0.05)(0.133,0)(0.135,-0.05)(0.137,0)(0.139,-0.05)(0.141,0)(0.143,-0.05)(0.145,0)(0.147,-0.05)(0.149,0)(0.150,0)
(0.022,-0.35)(0.024,-0.45)(0.026,-0.3)(0.028,-0.5)(0.030,-0.35)(0.032,-0.45)(0.034,-0.3)(0.036,-0.45)(0.038,-0.35)(0.040,-0.3)(0.042,-0.35)(0.044,-0.25)(0.046,-0.3)(0.048,-0.25)(0.050,-0.3)(0.052,-0.2)(0.054,-0.3)(0.056,-0.25)(0.058,-0.2)(0.060,-0.25)(0.062,-0.2)(0.064,-0.25)(0.066,-0.15)(0.068,-0.2)(0.070,-0.2)(0.072,-0.15)(0.074,-0.2)(0.076,-0.15)(0.078,-0.2)(0.080,-0.15)(0.082,-0.2)(0.084,-0.15)(0.086,-0.15)(0.088,-0.2)(0.090,-0.15)(0.092,-0.1)(0.094,-0.15)(0.096,-0.15)(0.098,-0.1)(0.100,-0.15)(0.104,-0.1)(0.108,-0.15)(0.112,-0.1)(0.116,-0.15)(0.120,-0.1)(0.124,-0.1)(0.128,-0.15)(0.132,-0.1)(0.136,-0.1)(0.140,-0.15)(0.144,-0.1)(0.148,-0.1)
(0.023,-0.7)(0.025,-0.85)(0.027,-0.6)(0.029,-0.9)(0.031,-0.7)(0.033,-0.95)(0.035,-0.65)(0.037,-0.8)(0.039,-0.6)(0.043,-0.55)(0.045,-0.7)(0.048,-0.5)(0.051,-0.55)(0.054,-0.45)(0.058,-0.5)(0.062,-0.4)(0.066,-0.45)(0.071,-0.35)(0.076,-0.4)(0.082,-0.3)(0.089,-0.35)(0.095,-0.3)(0.103,-0.25)(0.112,-0.3)(0.122,-0.2)(0.133,-0.25)(0.145,-0.2)
};
\node[leg] at (rel axis cs:0.974,0.05) {140 marqueurs par face\\24 marqueurs par paires\\1 marqueur par noeud};
\end{axis}
\end{tikzpicture}
\end{document}
